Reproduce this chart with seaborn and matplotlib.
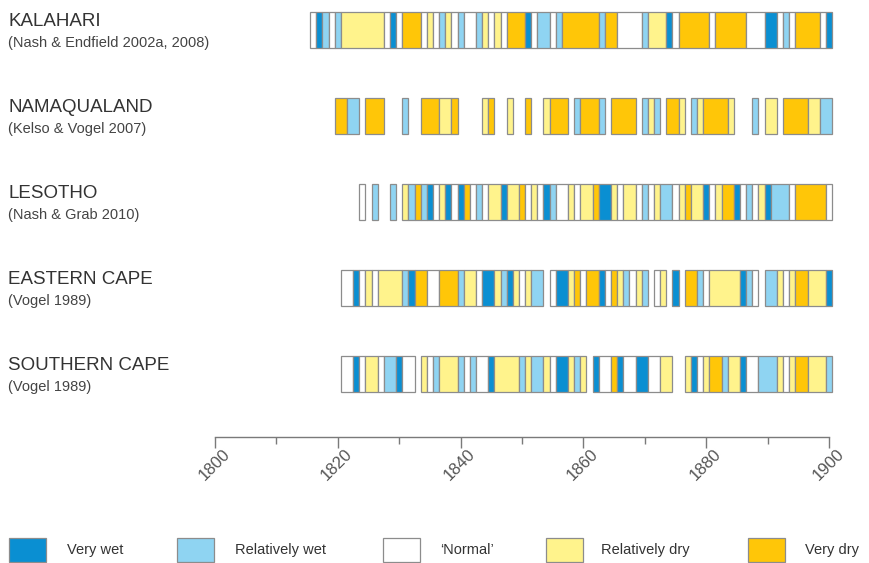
import matplotlib
matplotlib.use("Agg")
import matplotlib.pyplot as plt
from matplotlib.patches import Rectangle
from matplotlib.transforms import blended_transform_factory, ScaledTranslation
import pandas as pd
import seaborn as sns

# Climate classification per year, one character per year from 1810 to 1900.
# W = very wet, w = relatively wet, n = 'normal', d = relatively dry,
# D = very dry, . = no record
FIRST_YEAR = 1810
kalahari = ("......nWwn" "wdddddddnW" "nDDDndnwdn" "wnnwdndnDD" "DWnwwnwDDD"
            "DDDwDDnnnn" "wdddWnDDDD" "DnDDDDDnnn" "WWnwnDDDDn" "W")
namaqualand = (".........." "DDww.DDD.." ".w..DDDddD" "....dD..d." ".D..dDDD.w"
               "DDDw.DDDD." "wdw.DDd.wd" "DDDDd...w." "dd.DDDDddw" "w")
lesotho = (".........." "....n.w..w" ".dwDwWndWn" "WDnwnddWdd" "DndnWwnndn"
           "ddDWWdnddn" "wndwwndDdd" "WndDDWnwnd" "WwwwnDDDDD" "n")
eastern_cape = (".........." ".nnWndnddd" "dwWDDnnDDD" "wddnWWdwWd" "ndww.nWWdD"
                "nDDWnDdwnd" "w.nd.W.DDw" "ndddddWwn." "wwdndDDddd" "W")
southern_cape = (".........." ".nnWnddnww" "Wnn.dnwddd" "wnwnnWdddd" "wdwwdnWWdw"
                 "d.WnnDWnnW" "Wnndd..dWn" "dDDwddWnnw" "wwdndDDddd" "w")

regions = ["KALAHARI", "NAMAQUALAND", "LESOTHO", "EASTERN CAPE", "SOUTHERN CAPE"]
sources = ["(Nash & Endfield 2002a, 2008)", "(Kelso & Vogel 2007)",
           "(Nash & Grab 2010)", "(Vogel 1989)", "(Vogel 1989)"]
records = [kalahari, namaqualand, lesotho, eastern_cape, southern_cape]

class_codes = ["W", "w", "n", "d", "D"]
class_names = ["Very wet", "Relatively wet", "\u2018Normal\u2019", "Relatively dry", "Very dry"]
class_colors = ["#0a8fd2", "#8fd4f2", "#ffffff", "#fff38c", "#ffc608"]

tick_years = [1800, 1820, 1840, 1860, 1880, 1900]
minor_years = [1810, 1830, 1850, 1870, 1890]

# Collapse each record into runs of consecutive years with the same class
rows = []
for idx, rec in enumerate(records):
    start = None
    for i, ch in enumerate(rec + "."):
        year = FIRST_YEAR + i
        if start is not None and ch != rec[start - FIRST_YEAR]:
            code = rec[start - FIRST_YEAR]
            if code != ".":
                rows.append(dict(row=idx, start=start, length=year - start, code=code))
            start = None
        if start is None:
            start = year
runs = pd.DataFrame(rows)
color_of = dict(zip(class_codes, class_colors))

sns.set_theme(style="white")
plt.rcParams["font.family"] = ["Liberation Sans", "DejaVu Sans"]

W, H = 869, 563
fig = plt.figure(figsize=(W / 100, H / 100), dpi=100)
ax = fig.add_axes([215 / W, 1 - 437 / H, 614 / W, 437 / H])

ax.barh(runs["row"], runs["length"], left=runs["start"] - 0.5, height=0.42,
        color=runs["code"].map(color_of), edgecolor="#8c8c8c", linewidth=0.9,
        clip_on=False, zorder=2)

ax.set_xlim(1800, 1900)
ax.set_ylim(4.73, -0.35)
ax.set_yticks([])
sns.despine(ax=ax, left=True, top=True, right=True)
ax.spines["bottom"].set_color("#7a7a7a")
ax.spines["bottom"].set_linewidth(1.0)
ax.set_xticks(tick_years)
ax.set_xticks(minor_years, minor=True)
ax.set_xticklabels([])
ax.tick_params(axis="x", which="major", direction="out", length=8, width=1.0,
               color="#7a7a7a", bottom=True)
ax.tick_params(axis="x", which="minor", direction="out", length=5, width=1.0,
               color="#7a7a7a", bottom=True)
ax.grid(False)
ax.patch.set_alpha(0)

# Slanted year labels hanging below the ticks
label_trans = (blended_transform_factory(ax.transData, ax.transAxes)
               + ScaledTranslation(0.125, -0.15, fig.dpi_scale_trans))
for y in tick_years:
    ax.text(y, 0, str(y), transform=label_trans, rotation=45,
            rotation_mode="anchor", ha="right", va="center", fontsize=12,
            color="#555555", clip_on=False)

# Region names and sources to the left of the bars
trans = blended_transform_factory(fig.transFigure, ax.transData)
for i, (name, src) in enumerate(zip(regions, sources)):
    ax.text(8 / W, i - 0.105, name, transform=trans, fontsize=13.5,
            color="#333333", va="center", ha="left")
    ax.text(8 / W, i + 0.145, src, transform=trans, fontsize=10.5,
            color="#444444", va="center", ha="left")

# Legend row along the bottom
box_x = [9, 177, 383, 546, 748]
text_x = [67, 235, 440, 601, 805]
for bx, tx, name, col in zip(box_x, text_x, class_names, class_colors):
    fig.add_artist(Rectangle((bx / W, 1 - 562 / H), 37 / W, 24 / H,
                             transform=fig.transFigure, facecolor=col,
                             edgecolor="#8c8c8c", linewidth=0.9))
    fig.text(tx / W, 1 - 550 / H, name, fontsize=10.5, color="#333333",
             va="center", ha="left")

fig.savefig("out.png", dpi=100, facecolor="white")
